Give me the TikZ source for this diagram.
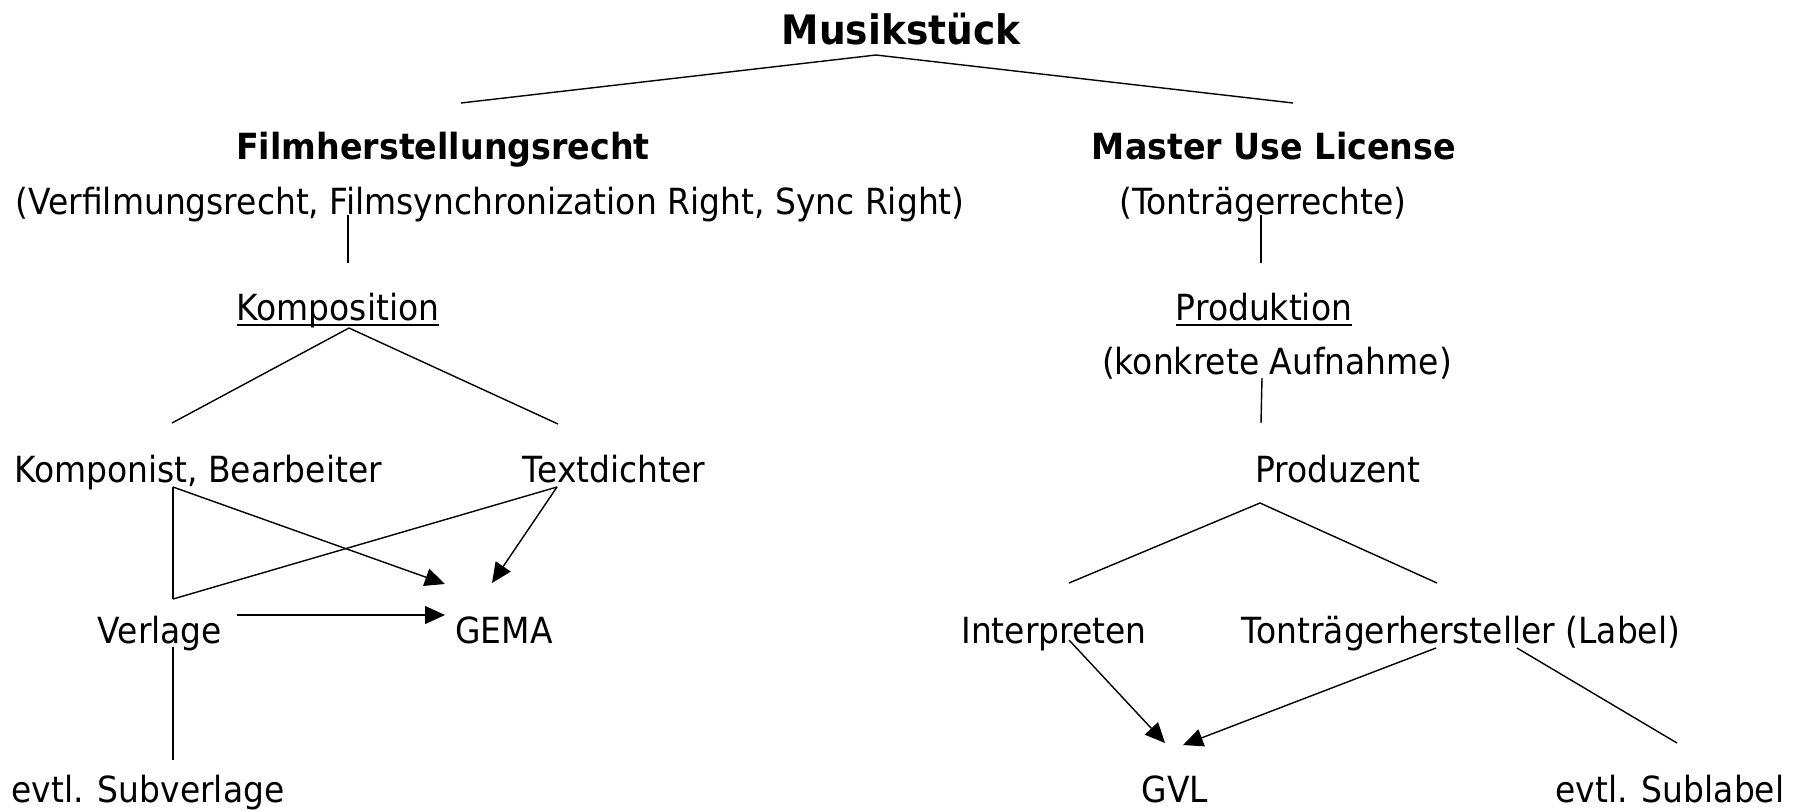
\documentclass[tikz,border=0pt]{standalone}
\usepackage{fontspec}
\setmainfont{DejaVu Sans}[FakeStretch=0.915, BoldFeatures={FakeStretch=0.925}]
\usepackage{tikz}
\usetikzlibrary{positioning,arrows.meta,calc}
\newcommand{\ultext}[1]{\setbox0\hbox{#1}\rlap{\rule[-3pt]{\wd0}{1pt}}\box0}

\begin{document}
\begin{tikzpicture}[
  x=0.5pt, y=-0.5pt,
  font=\fontsize{18}{22}\selectfont,
  lbl/.style={anchor=base, inner sep=0pt},
  hd/.style={lbl, font=\fontsize{18}{22}\selectfont\bfseries},
  ln/.style={line width=0.7pt},
  arr/.style={-{Triangle[length=10pt,width=9pt]}, line width=0.7pt},
  ]
  \useasboundingbox (0,0) rectangle (1794,810);
  % top
  \node[hd, font=\fontsize{20.3}{24}\selectfont\bfseries] (musik) at (901,44) {Musikstück};
  \node[hd] (film) at (443,159) {Filmherstellungsrecht};
  \node[hd] (master) at (1274,159) {Master Use License};
  \node[lbl] (verfilm) at (490,214) {(Verfilmungsrecht, Filmsynchronization Right, Sync Right)};
  \node[lbl] (tonrecht) at (1263,214) {(Tonträgerrechte)};
  \draw[ln] ($(musik.base)+(-25,11)$) -- ($(film.base)+(18,-56)$);
  \draw[ln] ($(musik.base)+(-25,11)$) -- ($(master.base)+(19,-56)$);
  % left branch: composition
  \node[lbl] (komp) at (338,320) {\ultext{Komposition}};
  \node[lbl] (kompo) at (198,482) {Komponist, Bearbeiter};
  \node[lbl] (textd) at (614,482) {Textdichter};
  \node[lbl] (verlage) at (160,643) {Verlage};
  \node[lbl] (gema) at (504,643) {GEMA};
  \node[lbl] (subv) at (148,802) {evtl. Subverlage};
  \draw[ln] ($(verfilm.base)+(-142,1)$) -- ($(komp.base)+(10,-57)$);
  \draw[ln] ($(komp.base)+(11,8)$) -- ($(kompo.base)+(-26,-59)$);
  \draw[ln] ($(komp.base)+(11,8)$) -- ($(textd.base)+(-56,-58)$);
  \draw[ln] ($(kompo.base)+(-25,5)$) -- ($(verlage.base)+(13,-44)$);
  \draw[arr] ($(kompo.base)+(-25,5)$) -- ($(gema.base)+(-59,-59)$);
  \draw[ln] ($(textd.base)+(-57,5)$) -- ($(verlage.base)+(13,-44)$);
  \draw[arr] ($(textd.base)+(-57,5)$) -- ($(gema.base)+(-12,-60)$);
  \draw[arr] ($(verlage.base)+(77,-28)$) -- ($(gema.base)+(-59,-28)$);
  \draw[ln] ($(verlage.base)+(13,4)$) -- ($(subv.base)+(25,-42)$);
  % right branch: production
  \node[lbl] (prod) at (1264,320) {\ultext{Produktion}};
  \node[lbl] (aufn) at (1277,374) {(konkrete Aufnahme)};
  \node[lbl] (produz) at (1338,482) {Produzent};
  \node[lbl] (interp) at (1054,643) {Interpreten};
  \node[lbl] (tontr) at (1461,643) {Tonträgerhersteller (Label)};
  \node[lbl] (gvl) at (1175,802) {GVL};
  \node[lbl] (sublabel) at (1670,802) {evtl. Sublabel};
  \draw[ln] ($(tonrecht.base)+(-2,1)$) -- ($(prod.base)+(-3,-57)$);
  \draw[ln] ($(aufn.base)+(-15,4)$) -- ($(produz.base)+(-77,-59)$);
  \draw[ln] ($(produz.base)+(-78,21)$) -- ($(interp.base)+(15,-60)$);
  \draw[ln] ($(produz.base)+(-78,21)$) -- ($(tontr.base)+(-24,-60)$);
  \draw[arr] ($(interp.base)+(15,-3)$) -- ($(gvl.base)+(-10,-59)$);
  \draw[arr] ($(tontr.base)+(-25,5)$) -- ($(gvl.base)+(8,-57)$);
  \draw[ln] ($(tontr.base)+(56,5)$) -- ($(sublabel.base)+(7,-59)$);
\end{tikzpicture}
\end{document}
